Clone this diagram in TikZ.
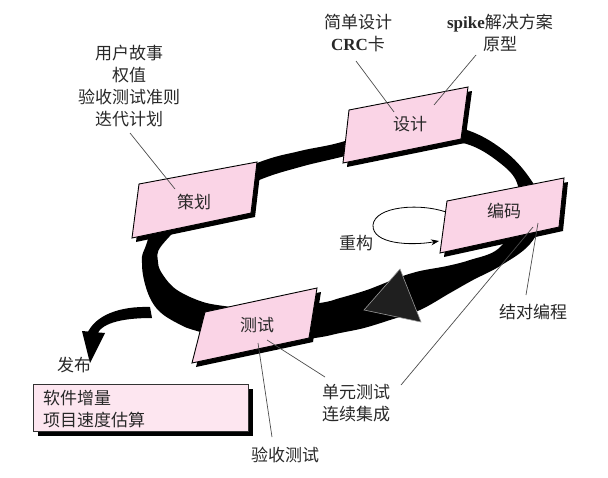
\documentclass[tikz,border=0pt]{standalone}
\usepackage{fontspec}
\setmainfont{Noto Sans CJK SC}
\newfontfamily\lserif{Liberation Serif}
\usetikzlibrary{arrows.meta}
\definecolor{boxpink}{RGB}{250,212,230}
\definecolor{relpink}{RGB}{253,230,240}
\definecolor{ink}{RGB}{40,40,40}
\begin{document}
\begin{tikzpicture}[x=1pt,y=-1pt,
  pg/.style={fill=boxpink,draw=black,line width=0.9pt,line join=miter},
  shd/.style={fill=black},
  lead/.style={draw=black!70,line width=0.7pt},
  txt/.style={font=\fontsize{17pt}{22pt}\selectfont, text=ink, inner sep=0pt, align=center},
]
\useasboundingbox (0,0) rectangle (608,477);

% main loop band
\fill[black, even odd rule]
 plot[smooth cycle, tension=0.6] coordinates {(170,200) (257,163) (300,151) (345,141) (405,118) (467,130) (507,153) (533,183) (545,212) (530,244) (500,266) (473,280) (450,293) (420,310) (390,320) (364,328) (340,333) (315,338) (255,345) (197,331) (177,323) (160,312) (150,298) (144,280) (142,263) (145,248)}
 plot[smooth cycle, tension=0.6] coordinates {(200,210) (257,181) (300,167) (345,156) (405,140) (463,143) (500,163) (518,186) (515,222) (498,249) (470,260) (447,266) (420,271) (400,277) (380,285) (364,291) (340,298) (320,303) (255,312) (230,307) (203,302) (177,290) (163,275) (158,262) (162,245)};

% big arrowhead on loop
\filldraw[fill=black!88, draw=black!40, line width=0.6pt] (400,269) -- (421,322) -- (364,310) -- cycle;

% release branch
\fill[black] (150,307) .. controls (120,306) and (95,315) .. (87,334) -- (97,334) .. controls (103,322) and (125,318) .. (152,318) -- cycle;
\fill[black] (82,331) -- (105,333) -- (90,363) -- cycle;

% refactor loop
\coordinate (rs) at (446,212);
\coordinate (re) at (439,241);
\draw[line width=0.8pt, -{Stealth[length=8pt,width=6pt]}] (rs) .. controls (420,203) and (375,206) .. (373,225) .. controls (372,244) and (410,246) .. (re);

% parallelogram boxes with shadows
\fill[shd] (143,188) -- (261,166) -- (255,217) -- (136,242) -- cycle;
\draw[pg] (139,184) -- (257,162) -- (251,213) -- (132,238) -- cycle;
\fill[shd] (353,114) -- (472,91) -- (465,143) -- (347,167) -- cycle;
\draw[pg] (349,110) -- (468,87) -- (461,139) -- (343,163) -- cycle;
\fill[shd] (451,205) -- (568,182) -- (563,231) -- (444,257) -- cycle;
\draw[pg] (447,201) -- (564,178) -- (559,227) -- (440,253) -- cycle;
\fill[shd] (209,316) -- (321,292) -- (313,342) -- (196,367) -- cycle;
\draw[pg] (205,312) -- (317,288) -- (309,338) -- (192,363) -- cycle;

% release box
\fill[shd] (38,389) rectangle (253,436);
\draw[fill=relpink, draw=black!80, line width=0.8pt] (33,384) rectangle (248,431);

% box labels
\node[txt] (plan) at (194,202) {策划};
\node[txt] (design) at (410,124) {设计};
\node[txt] (code) at (504,211) {编码};
\node[txt] (test) at (257,325) {测试};

% annotation texts
\node[txt] (plannotes) at (129,86) {用户故事\\权值\\验收测试准则\\迭代计划};
\node[txt] (simple) at (358,33) {简单设计\\{\lserif\bfseries CRC}卡};
\node[txt] (spike) at (500,33) {{\lserif\bfseries spike}解决方案\\原型};
\node[txt] (refactor) at (356,243) {重构};
\node[txt] (pair) at (533,312) {结对编程};
\node[txt] (unit) at (356,403) {单元测试\\连续集成};
\node[txt] (accept) at (285,455) {验收测试};
\node[txt] (release) at (74,365) {发布};
\node[txt, align=left, anchor=west] (relnotes) at (43,409) {软件增量\\项目速度估算};

% leader lines
\coordinate (l1a) at (130,133); \coordinate (l1b) at (175,189);
\coordinate (l2a) at (356,61);  \coordinate (l2b) at (394,112);
\coordinate (l3a) at (476,55);  \coordinate (l3b) at (434,105);
\coordinate (l4a) at (533,227); \coordinate (l4b) at (401,385);
\coordinate (l5a) at (538,223); \coordinate (l5b) at (526,295);
\coordinate (l6a) at (267,340); \coordinate (l6b) at (325,377);
\coordinate (l7a) at (258,343); \coordinate (l7b) at (272,437);
\draw[lead] (l1a) -- (l1b);
\draw[lead] (l2a) -- (l2b);
\draw[lead] (l3a) -- (l3b);
\draw[lead] (l4a) -- (l4b);
\draw[lead] (l5a) -- (l5b);
\draw[lead] (l6a) -- (l6b);
\draw[lead] (l7a) -- (l7b);
\end{tikzpicture}
\end{document}
